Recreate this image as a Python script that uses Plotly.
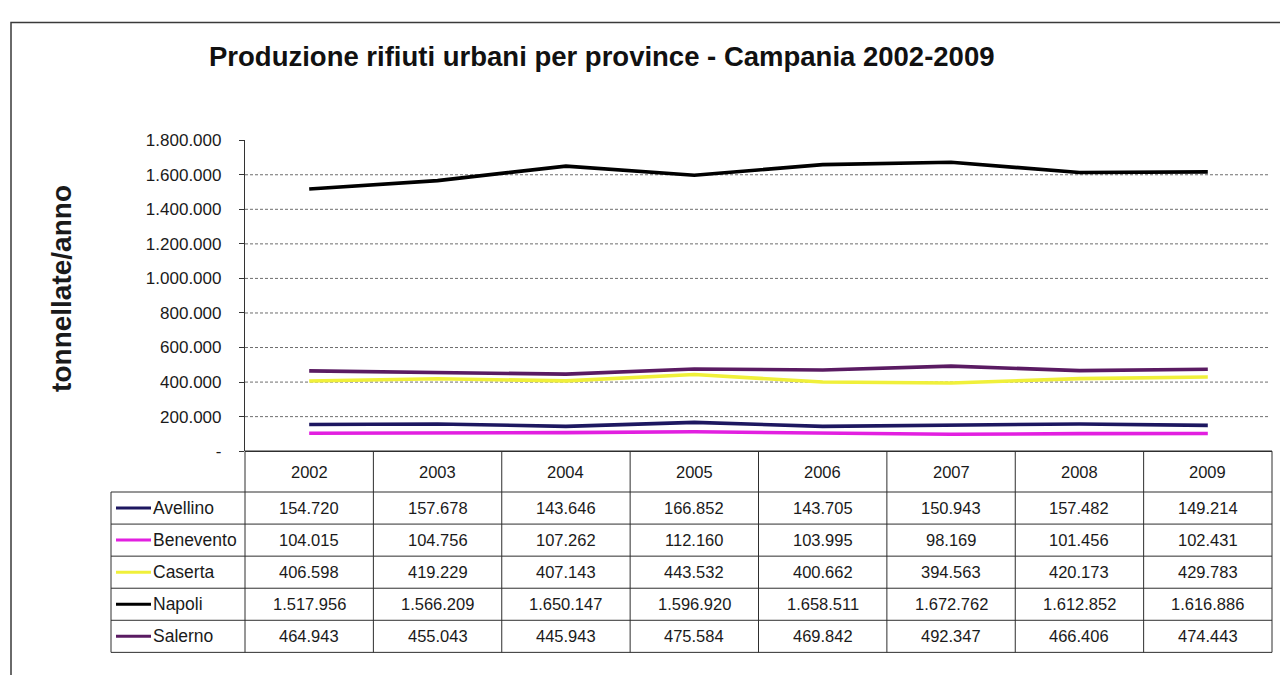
import plotly.graph_objects as go

# --- data -------------------------------------------------------------
YEARS = [2002, 2003, 2004, 2005, 2006, 2007, 2008, 2009]
PROVINCES = ["Avellino", "Benevento", "Caserta", "Napoli", "Salerno"]

AVELLINO = [154720, 157678, 143646, 166852, 143705, 150943, 157482, 149214]
BENEVENTO = [104015, 104756, 107262, 112160, 103995, 98169, 101456, 102431]
CASERTA = [406598, 419229, 407143, 443532, 400662, 394563, 420173, 429783]
NAPOLI = [1517956, 1566209, 1650147, 1596920, 1658511, 1672762, 1612852, 1616886]
SALERNO = [464943, 455043, 445943, 475584, 469842, 492347, 466406, 474443]

TICK_VALUES = [0, 200000, 400000, 600000, 800000, 1000000, 1200000, 1400000, 1600000, 1800000]
TICK_LABELS = ["-", "200.000", "400.000", "600.000", "800.000", "1.000.000",
               "1.200.000", "1.400.000", "1.600.000", "1.800.000"]

TITLE = "Produzione rifiuti urbani per province - Campania 2002-2009"
Y_TITLE = "tonnellate/anno"

SERIES = [AVELLINO, BENEVENTO, CASERTA, NAPOLI, SALERNO]
COLORS = ["#1d1760", "#e21fe0", "#f0f03a", "#000000", "#5a1b62"]

# --- layout helpers (pixel -> paper) ------------------------------------
W, H = 1280, 675
FONT = "Liberation Sans, Arial, sans-serif"


def px(x):
    return x / W


def py(y):
    return 1 - y / H


def fmt(v):
    return f"{v:,}".replace(",", ".")


PLOT_L, PLOT_R = 245, 1272
PLOT_T, PLOT_B = 135, 455
LEG_L = 111
HEAD_B = 497
ROW_H = 33
COL_W = (PLOT_R - PLOT_L) / len(YEARS)

fig = go.Figure()

# draw Napoli last so it sits on top
order = [0, 1, 2, 4, 3]
for i in order:
    fig.add_trace(go.Scatter(
        x=YEARS, y=SERIES[i], name=PROVINCES[i], mode="lines",
        line=dict(color=COLORS[i], width=3.6),
        showlegend=False,
    ))

shapes = []
annotations = []

# outer frame
shapes.append(dict(type="rect", xref="paper", yref="paper",
                   x0=px(11), x1=px(1290), y0=py(690), y1=py(14),
                   line=dict(color="#3a3a3a", width=1.5), layer="below"))

# horizontal gridlines (dashed)
for v in TICK_VALUES[1:-1]:
    shapes.append(dict(type="line", xref="paper", yref="y",
                       x0=px(PLOT_L), x1=px(1270), y0=v, y1=v,
                       line=dict(color="#6e6e6e", width=1, dash="3px,2px"),
                       layer="below"))

# data table: borders
tc = "#2e2e2e"
table_bottom = HEAD_B + ROW_H * len(PROVINCES)
shapes.append(dict(type="line", xref="paper", yref="paper",
                   x0=px(PLOT_L), x1=px(PLOT_R), y0=py(PLOT_B), y1=py(PLOT_B),
                   line=dict(color=tc, width=1.5)))
for r in range(len(PROVINCES) + 1):
    y = HEAD_B + r * ROW_H
    shapes.append(dict(type="line", xref="paper", yref="paper",
                       x0=px(LEG_L), x1=px(PLOT_R), y0=py(y), y1=py(y),
                       line=dict(color=tc, width=1)))
for c in range(len(YEARS) + 1):
    x = PLOT_L + c * COL_W
    shapes.append(dict(type="line", xref="paper", yref="paper",
                       x0=px(x), x1=px(x), y0=py(PLOT_B), y1=py(table_bottom),
                       line=dict(color=tc, width=1)))
shapes.append(dict(type="line", xref="paper", yref="paper",
                   x0=px(LEG_L), x1=px(LEG_L), y0=py(HEAD_B), y1=py(table_bottom),
                   line=dict(color=tc, width=1)))

# header row with years
for c, yr in enumerate(YEARS):
    annotations.append(dict(
        xref="paper", yref="paper", x=px(PLOT_L + (c + 0.5) * COL_W),
        y=py((PLOT_B + HEAD_B) / 2), text=str(yr), showarrow=False,
        xanchor="center", yanchor="middle",
        font=dict(family=FONT, size=16.5, color="#1a1a1a")))

# data rows: legend key + values
for r, name in enumerate(PROVINCES):
    yc = HEAD_B + (r + 0.5) * ROW_H
    shapes.append(dict(type="line", xref="paper", yref="paper",
                       x0=px(116), x1=px(151), y0=py(yc), y1=py(yc),
                       line=dict(color=COLORS[r], width=3)))
    annotations.append(dict(
        xref="paper", yref="paper", x=px(151), y=py(yc), text=name,
        showarrow=False, xanchor="left", yanchor="middle",
        font=dict(family=FONT, size=17.5, color="#1a1a1a")))
    for c, v in enumerate(SERIES[r]):
        annotations.append(dict(
            xref="paper", yref="paper", x=px(PLOT_L + (c + 0.5) * COL_W),
            y=py(yc), text=fmt(v), showarrow=False,
            xanchor="center", yanchor="middle",
            font=dict(family=FONT, size=16.5, color="#1a1a1a")))

# chart title
annotations.append(dict(
    xref="paper", yref="paper", x=px(601), y=py(49), text=f"<b>{TITLE}</b>",
    showarrow=False, xanchor="center", yanchor="middle",
    font=dict(family="Liberation Sans Narrow, Arial Narrow, " + FONT, size=27.5,
              color="#111111")))

# y axis title
annotations.append(dict(
    xref="paper", yref="paper", x=px(62), y=py(288), text=f"<b>{Y_TITLE}</b>",
    showarrow=False, textangle=-90, xanchor="center", yanchor="middle",
    font=dict(family=FONT, size=28, color="#1a1a1a")))

fig.update_layout(
    width=W, height=H,
    margin=dict(l=0, r=0, t=0, b=0),
    paper_bgcolor="white", plot_bgcolor="white",
    font=dict(family=FONT, size=16, color="#1a1a1a"),
    shapes=shapes, annotations=annotations,
    showlegend=False,
    xaxis=dict(domain=[px(PLOT_L), px(PLOT_R)], range=[YEARS[0] - 0.5, YEARS[-1] + 0.5],
               showticklabels=False, showgrid=False, zeroline=False, showline=False,
               ticks=""),
    yaxis=dict(domain=[py(PLOT_B), py(PLOT_T)], range=[0, TICK_VALUES[-1]],
               tickvals=TICK_VALUES, ticktext=TICK_LABELS,
               showgrid=False, zeroline=False,
               showline=True, linecolor="#333333", linewidth=1.2,
               ticks="outside", ticklen=5, tickcolor="#333333",
               ticklabelstandoff=14,
               tickfont=dict(family=FONT, size=17, color="#1a1a1a")),
)

fig.write_html("out.html")
